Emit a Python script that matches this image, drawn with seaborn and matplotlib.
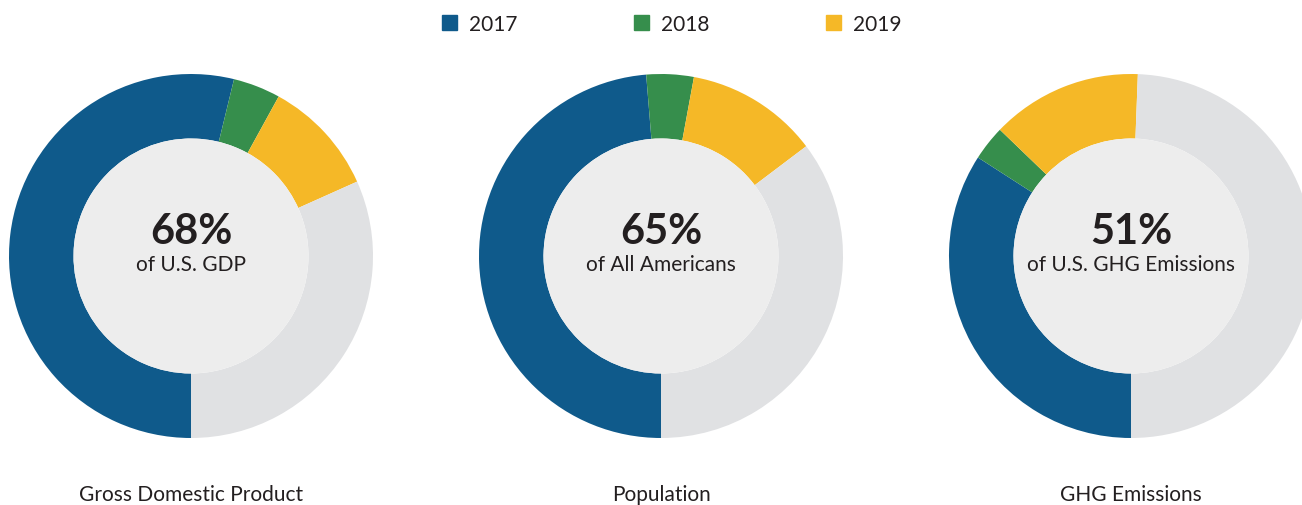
import matplotlib
matplotlib.use("Agg")
import matplotlib.pyplot as plt
from matplotlib.patches import Patch, Circle
import seaborn as sns

# data (shares in percent)
years = ["2017", "2018", "2019"]
titles = ["Gross Domestic Product", "Population", "GHG Emissions"]
centre_pct = ["68%", "65%", "51%"]
centre_sub = ["of U.S. GDP", "of All Americans", "of U.S. GHG Emissions"]
share_2017 = [53.8, 48.7, 34.1]
share_2018 = [4.2, 4.2, 3.1]
share_2019 = [10.3, 11.8, 13.4]

sns.set_theme(style="white")
plt.rcParams['font.family'] = ['Lato', 'DejaVu Sans']

colors = sns.color_palette(["#0f5a8b", "#368e4c", "#f5b827"])
rest_color = "#e0e1e3"
hole_color = "#ededed"
text_color = "#231f20"

W, H = 1302, 506
fig = plt.figure(figsize=(W / 100, H / 100), dpi=100)
ax = fig.add_axes([0, 0, 1, 1])

centres_x = [191, 661, 1131]
cy = H - 257
r_out, r_in = 182, 117.5

for i in range(3):
    vals = [share_2017[i], share_2018[i], share_2019[i]]
    vals.append(100 - sum(vals))
    ax.pie(vals, colors=list(colors) + [rest_color],
           center=(centres_x[i], cy), radius=r_out,
           startangle=270, counterclock=False, frame=True,
           wedgeprops=dict(width=r_out - r_in, linewidth=0))
    ax.add_patch(Circle((centres_x[i], cy), r_in, color=hole_color, lw=0))
    ax.text(centres_x[i], H - 232, centre_pct[i], fontsize=30, fontweight='bold',
            ha='center', va='center', color=text_color)
    ax.text(centres_x[i], H - 265, centre_sub[i], fontsize=15,
            ha='center', va='center', color=text_color)
    ax.text(centres_x[i], H - 495, titles[i], fontsize=15,
            ha='center', va='center', color=text_color)

handles = [Patch(color=c, label=y) for c, y in zip(colors, years)]
ax.legend(handles=handles, loc='center', bbox_to_anchor=(672, H - 25),
          bbox_transform=ax.transData, ncol=3, frameon=False, fontsize=15,
          handlelength=0.7, handleheight=0.7, handletextpad=0.6,
          columnspacing=5.6, labelcolor=text_color, borderpad=0)

ax.set_xlim(0, W)
ax.set_ylim(0, H)
ax.set_aspect('equal')
ax.axis('off')

fig.savefig("out.png", dpi=100, facecolor="white")
